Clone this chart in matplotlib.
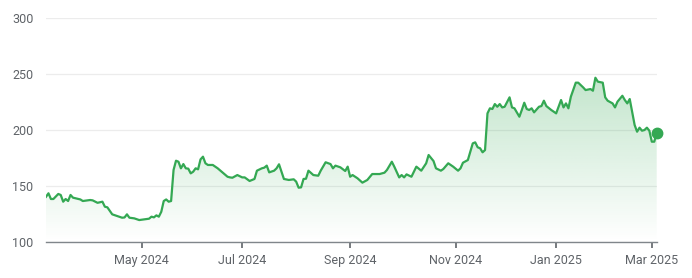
import numpy as np
import matplotlib
matplotlib.use('Agg')
import matplotlib.pyplot as plt
from matplotlib.colors import to_rgb

plt.rcParams['font.family'] = ['Roboto', 'DejaVu Sans']

# trading-day number (0 = first day shown) and closing price
day = [0, 1, 2, 3, 5, 6, 7, 8, 9, 10, 11, 14, 15, 18, 19, 21, 23, 24, 25, 27,
       29, 31, 32, 33, 34, 36, 38, 40, 42, 43, 44, 45, 46, 47, 48, 49, 50, 51, 52, 53,
       54, 55, 56, 57, 58, 59, 60, 61, 62, 63, 64, 65, 66, 68, 70, 72, 74, 75, 76, 78,
       80, 81, 83, 85, 86, 88, 89, 90, 91, 93, 94, 95, 97, 99, 101, 102, 103, 104, 105, 106,
       107, 109, 111, 112, 114, 116, 117, 118, 120, 122, 123, 124, 125, 127, 129, 131, 133, 136, 138, 139,
       141, 142, 144, 145, 146, 147, 149, 151, 153, 155, 156, 158, 159, 161, 162, 164, 166, 168, 169, 170,
       172, 174, 175, 176, 177, 178, 179, 180, 181, 182, 183, 184, 185, 186, 187, 189, 190, 191, 193, 194,
       195, 196, 197, 198, 199, 201, 202, 203, 204, 206, 208, 209, 210, 211, 212, 213, 214, 216, 217, 219,
       220, 222, 223, 224, 225, 227, 228, 229, 231, 232, 233, 235, 236, 237, 238, 239, 240, 241, 242, 243,
       244, 245, 246, 247, 248, 249]
price = [140.4, 143.5, 138.4, 138.4, 142.9, 142.0, 136.0, 138.4, 136.6, 142.0, 139.6, 138.0, 136.6, 137.5, 137.2, 135.0, 136.0, 131.5, 131.0, 124.7,
         123.2, 121.7, 121.9, 124.7, 121.7, 121.1, 119.6, 120.2, 120.8, 122.6, 122.0, 123.8, 122.6, 127.0, 136.6, 138.0, 136.0, 136.6, 164.3, 172.6,
         171.7, 165.8, 169.6, 165.8, 165.5, 161.3, 162.8, 165.8, 164.9, 173.8, 176.2, 170.3, 168.8, 168.8, 165.8, 162.0, 158.3, 157.7, 157.4, 159.8,
         157.7, 157.7, 154.5, 156.3, 163.7, 165.8, 166.4, 168.2, 162.2, 163.7, 165.8, 169.4, 156.3, 155.4, 156.0, 153.9, 148.5, 148.8, 156.3, 156.5,
         163.7, 159.8, 159.2, 163.7, 171.2, 169.6, 165.8, 168.2, 166.7, 163.4, 167.3, 158.3, 159.8, 156.9, 153.0, 155.4, 160.7, 160.7, 161.9, 164.3,
         171.7, 167.3, 157.7, 159.8, 157.7, 160.4, 158.3, 167.3, 163.7, 170.3, 177.7, 172.3, 165.8, 163.7, 165.2, 170.3, 167.3, 163.7, 165.8, 170.8,
         173.2, 188.1, 189.0, 184.6, 183.7, 180.1, 182.1, 214.9, 219.4, 218.8, 223.2, 220.8, 223.2, 220.2, 220.8, 229.2, 220.2, 219.4, 211.9, 217.9,
         224.4, 218.8, 217.9, 219.4, 215.8, 220.8, 221.4, 226.2, 221.4, 217.9, 214.9, 220.8, 226.8, 220.2, 223.8, 219.4, 229.8, 242.3, 242.3, 238.1,
         235.7, 236.6, 235.1, 246.7, 243.2, 242.3, 229.2, 226.2, 223.8, 220.2, 225.3, 230.6, 226.8, 223.8, 227.7, 216.3, 204.5, 198.5, 202.1, 199.4,
         200.0, 202.1, 199.4, 189.6, 189.6, 197.6]

tick_days = [39, 80, 124, 167, 208, 247]
tick_labels = ['May 2024', 'Jul 2024', 'Sep 2024', 'Nov 2024', 'Jan 2025', 'Mar 2025']
y_ticks = [100, 150, 200, 250, 300]

green = '#34a853'
text_col = '#5f6368'

fig = plt.figure(figsize=(6.92, 2.78), dpi=100)
ax = fig.add_axes([0.0665, 0.1295, 0.8825, 0.8055])
ax.set_xlim(0, 249)
ax.set_ylim(100, 300)

# gradient fill under the line
poly = ax.fill_between(day, price, 100, color='none', lw=0)
rgb = to_rgb(green)
grad = np.zeros((200, 2, 4))
grad[..., 0], grad[..., 1], grad[..., 2] = rgb
alpha = np.linspace(0.30, 0.0, 200)
grad[..., 3] = alpha[:, None]
img = ax.imshow(grad, extent=[0, 249, 100, 250], origin='upper', aspect='auto', zorder=1)
img.set_clip_path(poly.get_paths()[0], transform=ax.transData)

ax.plot(day, price, color=green, lw=1.6, zorder=3, solid_joinstyle='round')
ax.plot(day[-1], price[-1], 'o', color=green, ms=7.5, zorder=4, clip_on=False)

ax.set_yticks(y_ticks)
ax.set_xticks(tick_days)
ax.set_xticklabels(tick_labels)
ax.grid(axis='y', color='#ececec', lw=0.9, zorder=0)
ax.set_axisbelow(True)
for s in ['top', 'right', 'left']:
    ax.spines[s].set_visible(False)
ax.spines['bottom'].set_color('#80868b')
ax.spines['bottom'].set_linewidth(1.0)
ax.tick_params(axis='y', length=0, pad=9, labelsize=9, labelcolor=text_col)
ax.tick_params(axis='x', length=4, width=1.2, color='#5f6368', pad=5, labelsize=9, labelcolor=text_col)

fig.savefig('out.png', dpi=100)
